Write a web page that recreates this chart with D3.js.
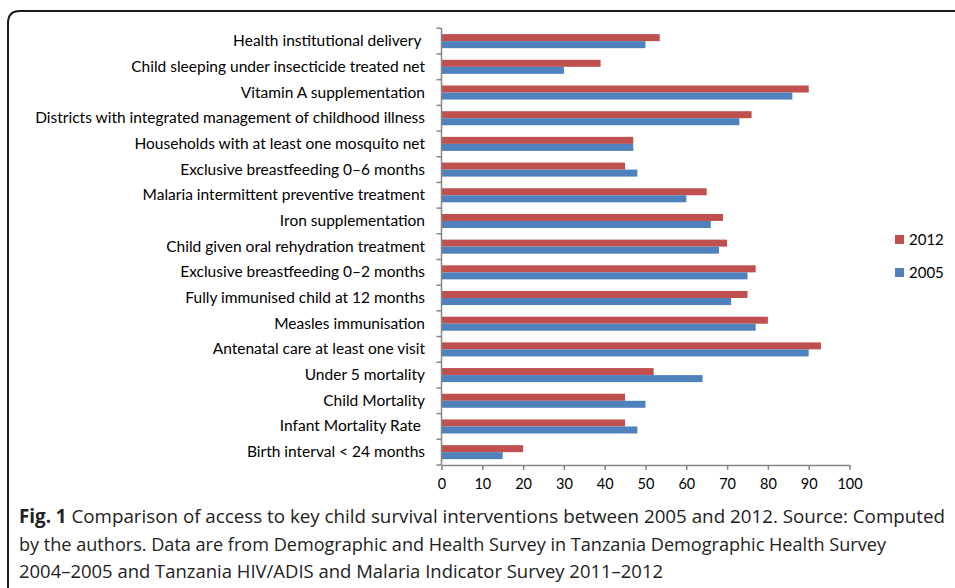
<!DOCTYPE html>
<html>
<head>
<meta charset="utf-8">
<script src="https://cdn.jsdelivr.net/npm/d3@7"></script>
<style>
  html, body { margin: 0; padding: 0; background: #fff; }
  svg { display: block; }
</style>
</head>
<body>
<svg id="chart" width="955" height="588"></svg>
<script>
// ---- data ----
const categories = [
  "Health institutional delivery ",
  "Child sleeping under insecticide treated net",
  "Vitamin A supplementation",
  "Districts with integrated management of childhood illness",
  "Households with at least one mosquito net",
  "Exclusive breastfeeding 0\u20136 months",
  "Malaria intermittent preventive treatment",
  "Iron supplementation",
  "Child given oral rehydration treatment",
  "Exclusive breastfeeding 0\u20132 months",
  "Fully immunised child at 12 months",
  "Measles immunisation",
  "Antenatal care at least one visit",
  "Under 5 mortality",
  "Child Mortality",
  "Infant Mortality Rate ",
  "Birth interval < 24 months"
];
const values2012 = [53.5, 39, 90, 76, 47, 45, 65, 69, 70, 77, 75, 80, 93, 52, 45, 45, 20];
const values2005 = [50, 30, 86, 73, 47, 48, 60, 66, 68, 75, 71, 77, 90, 64, 50, 48, 15];
const seriesNames = ["2012", "2005"];
const xTicks = [0, 10, 20, 30, 40, 50, 60, 70, 80, 90, 100];
const captionLines = [
  "Comparison of access to key child survival interventions between 2005 and 2012. Source: Computed",
  "by the authors. Data are from Demographic and Health Survey in Tanzania Demographic Health Survey",
  "2004\u20132005 and Tanzania HIV/ADIS and Malaria Indicator Survey 2011\u20132012"
];
const captionLead = "Fig. 1";

// ---- layout ----
(function () {
const svg = d3.select("#chart");
const colors = { "2012": "#C0504D", "2005": "#4F81BD" };
const pl = 441.5, pr = 849.5, pt = 28.3, pb = 465;

// frame
svg.append("path")
  .attr("d", `M8,600 L8,23 Q8,11 20,11 L970,11`)
  .attr("fill", "none").attr("stroke", "#1a1a1a").attr("stroke-width", 2);

const x = d3.scaleLinear().domain([0, 100]).range([pl, pr]);
const y = d3.scaleBand().domain(categories).range([pt, pb]).paddingInner(0).paddingOuter(0);
const inner = d3.scaleBand().domain(seriesNames).range([0, y.bandwidth()]).paddingOuter(0.83).paddingInner(0);

const rows = categories.map((c, i) => ({ c, vals: [{ s: "2012", v: values2012[i] }, { s: "2005", v: values2005[i] }] }));

const g = svg.append("g");
const row = g.selectAll("g.row").data(rows).join("g")
  .attr("transform", d => `translate(0,${y(d.c)})`);
row.selectAll("rect").data(d => d.vals).join("rect")
  .attr("x", x(0))
  .attr("y", d => inner(d.s))
  .attr("width", d => x(d.v) - x(0))
  .attr("height", inner.bandwidth())
  .attr("fill", d => colors[d.s]);

// axes
const axisColor = "#868686";
const edges = categories.map(c => y(c)).concat([pb]);
svg.append("g").selectAll("line").data(edges).join("line")
  .attr("x1", pl - 5).attr("x2", pl).attr("y1", d => d).attr("y2", d => d)
  .attr("stroke", axisColor).attr("stroke-width", 1.5);
svg.append("line").attr("x1", pl).attr("x2", pl).attr("y1", pt).attr("y2", pb)
  .attr("stroke", axisColor).attr("stroke-width", 1.5);

const xAxis = svg.append("g").attr("transform", `translate(0,${pb})`)
  .call(d3.axisBottom(x).tickValues(xTicks).tickSize(5).tickPadding(9).tickSizeOuter(0));
xAxis.select(".domain").attr("stroke", axisColor).attr("stroke-width", 1.5);
xAxis.selectAll(".tick line").attr("stroke", axisColor).attr("stroke-width", 1.5);
xAxis.selectAll(".tick text").attr("font-family", "Lato, sans-serif").attr("font-size", 14.5).attr("fill", "#000");

// category labels
svg.append("g").selectAll("text").data(categories).join("text")
  .attr("x", 425).attr("y", d => y(d) + y.bandwidth() / 2 + 5)
  .attr("text-anchor", "end")
  .attr("font-family", "Lato, sans-serif").attr("font-size", 15.5)
  .attr("fill", "#000")
  .style("white-space", "pre")
  .text(d => d);

// legend
const legend = svg.append("g").selectAll("g").data(seriesNames).join("g")
  .attr("transform", (d, i) => `translate(895,${235 + i * 33})`);
legend.append("rect").attr("width", 9).attr("height", 9).attr("fill", d => colors[d]);
legend.append("text").attr("x", 14).attr("y", 10).attr("font-family", "Lato, sans-serif")
  .attr("font-size", 15).attr("fill", "#000").text(d => d);

// caption
const capFont = "'Open Sans', sans-serif";
const capTargets = [926, 867, 644];
const capY = [523, 551, 578];
captionLines.forEach((line, i) => {
  const t = svg.append("text").attr("x", 19).attr("y", capY[i])
    .attr("font-family", capFont).attr("font-size", 19).attr("fill", "#222")
    .attr("textLength", capTargets[i]).attr("lengthAdjust", "spacingAndGlyphs");
  if (i === 0) {
    t.append("tspan").attr("font-weight", "bold").text(captionLead + " ");
  }
  t.append("tspan").text(line);
});
})();
</script>
</body>
</html>
